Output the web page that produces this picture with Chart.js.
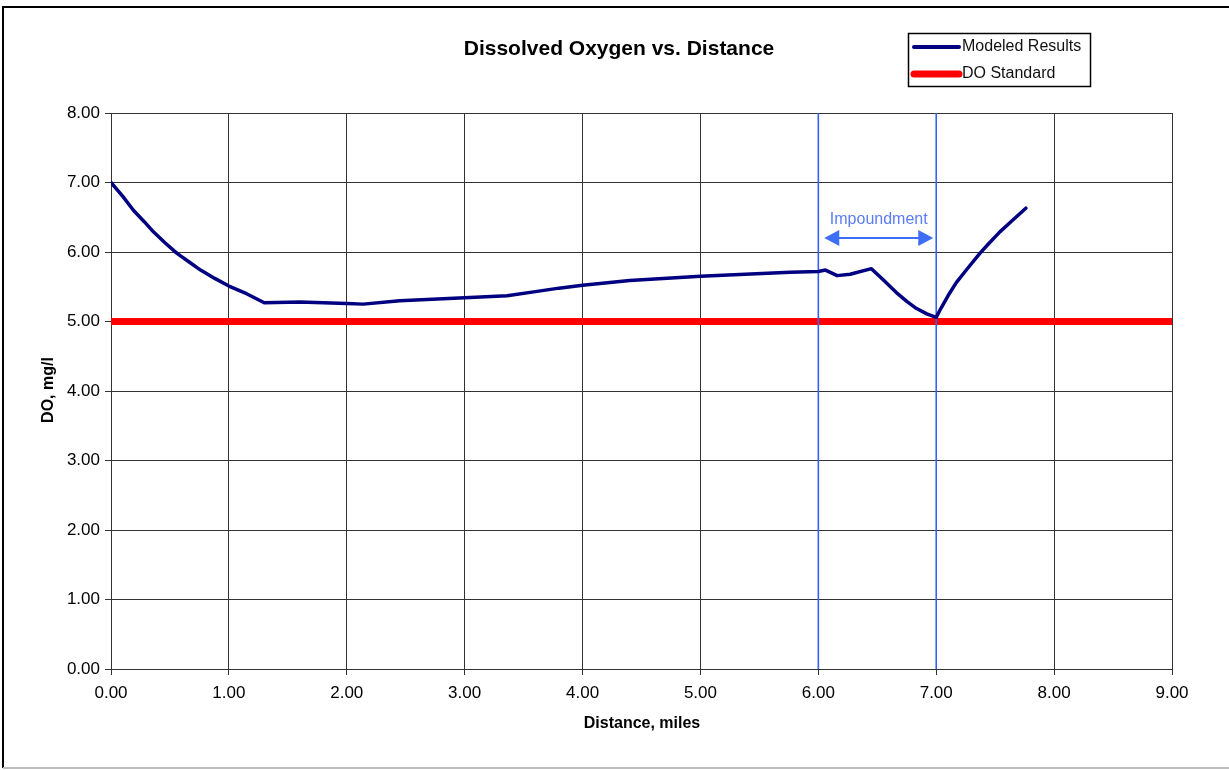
<!DOCTYPE html>
<html>
<head>
<meta charset="utf-8">
<script src="https://cdn.jsdelivr.net/npm/chart.js@4.4.1/dist/chart.umd.min.js"></script>
<style>
  html, body { margin: 0; padding: 0; background: #fff; }
  #wrap { width: 1229px; height: 770px; position: relative; }
</style>
</head>
<body>
<div id="wrap"><canvas id="c" width="1229" height="770"></canvas></div>
<script>
// ---- Data ----
const distanceMiles = [0.00, 0.10, 0.19, 0.28, 0.36, 0.46, 0.56, 0.66, 0.76, 0.88, 1.00, 1.15, 1.30, 1.60, 2.00, 2.14, 2.45, 3.00, 3.36, 3.60, 3.80, 4.00, 4.40, 5.00, 5.76, 6.00, 6.06, 6.16, 6.27, 6.45, 6.55, 6.66, 6.75, 6.83, 6.92, 7.00, 7.04, 7.10, 7.17, 7.25, 7.37, 7.45, 7.54, 7.65, 7.76];
const doModeled     = [7.00, 6.80, 6.60, 6.44, 6.29, 6.13, 5.98, 5.86, 5.74, 5.62, 5.51, 5.40, 5.27, 5.28, 5.26, 5.25, 5.30, 5.34, 5.37, 5.43, 5.48, 5.52, 5.59, 5.65, 5.71, 5.72, 5.74, 5.66, 5.68, 5.76, 5.60, 5.42, 5.29, 5.19, 5.11, 5.06, 5.19, 5.37, 5.56, 5.73, 5.98, 6.13, 6.29, 6.46, 6.63];
const standardX     = [0, 9];
const doStandard    = [5.00, 5.00];
const impoundmentBounds = [6.00, 7.00];
const xTicks = [0, 1, 2, 3, 4, 5, 6, 7, 8, 9];
const yTicks = [0, 1, 2, 3, 4, 5, 6, 7, 8];
const chartTitle = 'Dissolved Oxygen vs. Distance';
const xTitle = 'Distance, miles';
const yTitle = 'DO, mg/l';
const legendLabels = ['Modeled Results', 'DO Standard'];
const impoundmentLabel = 'Impoundment';

const FONT = "'Liberation Sans', Arial, sans-serif";
const NAVY = '#000080';
const RED = '#ff0000';
const VBLUE = '#3563f0';

const modeledPts = distanceMiles.map((d, i) => ({ x: d, y: doModeled[i] }));
const standardPts = standardX.map((d, i) => ({ x: d, y: doStandard[i] }));

const datasets = [
  { label: legendLabels[0], data: modeledPts, borderColor: NAVY, borderWidth: 3.5, pointRadius: 0, tension: 0, borderJoinStyle: 'round', borderCapStyle: 'round' }
];
impoundmentBounds.forEach(b => {
  datasets.push({ label: 'bound', data: [{ x: b, y: 0 }, { x: b, y: 8 }], borderColor: VBLUE, borderWidth: 1.6, pointRadius: 0 });
});
datasets.push({ label: legendLabels[1], data: standardPts, borderColor: RED, borderWidth: 7, pointRadius: 0 });

const decor = {
  id: 'decor',
  beforeDraw(chart) {
    const ctx = chart.ctx;
    ctx.save();
    ctx.fillStyle = '#fff';
    ctx.fillRect(0, 0, chart.width, chart.height);
    ctx.restore();
  },
  afterDraw(chart) {
    const ctx = chart.ctx;
    const xs = chart.scales.x, ys = chart.scales.y;
    ctx.save();
    // outer frame
    ctx.strokeStyle = '#000';
    ctx.lineWidth = 2;
    ctx.beginPath();
    ctx.moveTo(3, 768); ctx.lineTo(3, 7); ctx.lineTo(1229, 7);
    ctx.stroke();
    ctx.strokeStyle = '#bdbdbd';
    ctx.lineWidth = 2;
    ctx.beginPath(); ctx.moveTo(3, 768); ctx.lineTo(1229, 768); ctx.stroke();

    // title
    ctx.fillStyle = '#000';
    ctx.textAlign = 'center';
    ctx.textBaseline = 'middle';
    ctx.font = 'bold 21px ' + FONT;
    ctx.fillText(chartTitle, 619, 49);

    // axis titles
    ctx.font = 'bold 16px ' + FONT;
    ctx.fillText(xTitle, 642, 724);
    ctx.save();
    ctx.translate(49, 390);
    ctx.rotate(-Math.PI / 2);
    ctx.fillText(yTitle, 0, 0);
    ctx.restore();

    // legend
    ctx.strokeStyle = '#000';
    ctx.lineWidth = 1.5;
    ctx.strokeRect(908.5, 33.5, 182, 53);
    ctx.lineCap = 'round';
    ctx.strokeStyle = NAVY; ctx.lineWidth = 4;
    ctx.beginPath(); ctx.moveTo(914, 47); ctx.lineTo(959, 47); ctx.stroke();
    ctx.strokeStyle = RED; ctx.lineWidth = 7;
    ctx.beginPath(); ctx.moveTo(914, 74); ctx.lineTo(959, 74); ctx.stroke();
    ctx.lineCap = 'butt';
    ctx.fillStyle = '#111';
    ctx.textAlign = 'left';
    ctx.font = '16px ' + FONT;
    ctx.fillText(legendLabels[0], 962, 47);
    ctx.fillText(legendLabels[1], 962, 74);

    // impoundment annotation
    const x1 = xs.getPixelForValue(6.05), x2 = xs.getPixelForValue(6.975);
    const ay = ys.getPixelForValue(6.20);
    const ah = 15, aw = 8;
    ctx.strokeStyle = '#3d6ef5'; ctx.fillStyle = '#3d6ef5';
    ctx.lineWidth = 2;
    ctx.beginPath(); ctx.moveTo(x1 + ah - 2, ay); ctx.lineTo(x2 - ah + 2, ay); ctx.stroke();
    ctx.beginPath(); ctx.moveTo(x1, ay); ctx.lineTo(x1 + ah, ay - aw); ctx.lineTo(x1 + ah, ay + aw); ctx.closePath(); ctx.fill();
    ctx.beginPath(); ctx.moveTo(x2, ay); ctx.lineTo(x2 - ah, ay - aw); ctx.lineTo(x2 - ah, ay + aw); ctx.closePath(); ctx.fill();
    ctx.fillStyle = '#5b7cf5';
    ctx.textAlign = 'center';
    ctx.font = '16px ' + FONT;
    ctx.fillText(impoundmentLabel, (x1 + x2) / 2, ys.getPixelForValue(6.46));
    ctx.restore();
  }
};

new Chart(document.getElementById('c'), {
  type: 'line',
  data: { datasets },
  options: {
    responsive: false,
    animation: false,
    layout: { padding: { top: 113, right: 57, bottom: 0, left: 0 } },
    plugins: { legend: { display: false }, title: { display: false }, tooltip: { enabled: false } },
    scales: {
      x: {
        type: 'linear', min: 0, max: 9,
        afterFit(s) { s.height = 101; },
        afterBuildTicks(s) { s.ticks = xTicks.map(v => ({ value: v })); },
        ticks: { callback: v => Number(v).toFixed(2), color: '#000', font: { family: FONT, size: 17 }, padding: 8, maxRotation: 0, autoSkip: false },
        grid: { color: '#333', lineWidth: 1, tickLength: 6, drawTicks: true },
        border: { color: '#333', width: 1 }
      },
      y: {
        type: 'linear', min: 0, max: 8,
        afterFit(s) { s.width = 111; },
        afterBuildTicks(s) { s.ticks = yTicks.map(v => ({ value: v })); },
        ticks: { callback: v => Number(v).toFixed(2), color: '#000', font: { family: FONT, size: 17 }, padding: 5, autoSkip: false },
        grid: { color: '#333', lineWidth: 1, tickLength: 6, drawTicks: true },
        border: { color: '#333', width: 1 }
      }
    }
  },
  plugins: [decor]
});
</script>
</body>
</html>
